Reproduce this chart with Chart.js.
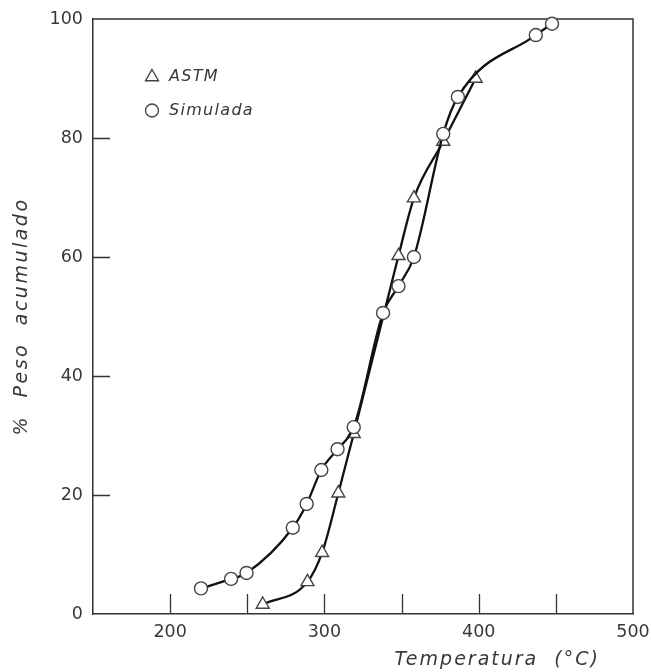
<!DOCTYPE html>
<html><head><meta charset="utf-8">
<script src="https://cdn.jsdelivr.net/npm/chart.js@4/dist/chart.umd.min.js"></script>
<style>html,body{margin:0;padding:0;background:#fff}#wrap{width:651px;height:672px}</style>
</head><body><div id="wrap"><canvas id="c" width="651" height="672"></canvas></div>
<script>
// Data
const astmTemp = [260, 289, 298.5, 309, 319, 348, 358, 377, 398];
const astmPeso = [1.6, 5.4, 10.3, 20.3, 30.3, 60.2, 69.9, 79.4, 90.0];
const simTemp = [220, 239.5, 249.5, 279.5, 288.5, 298, 308.5, 319, 338, 348, 358, 377, 386.5, 437, 447.5];
const simPeso = [4.3, 5.9, 6.9, 14.5, 18.5, 24.2, 27.7, 31.4, 50.6, 55.1, 60.0, 80.7, 86.9, 97.3, 99.2];
const xTickLabels = [200, 300, 400, 500];
const yTickLabels = [0, 20, 40, 60, 80, 100];
const xTickMarks = [200, 250, 300, 350, 400, 450];
const yTickMarks = [20, 40, 60, 80];
const seriesNames = ['ASTM', 'Simulada'];
const xTitle = 'Temperatura (°C)';
const yTitle = '% Peso acumulado';

const INK = '#383838';
const FONT = '"DejaVu Sans", sans-serif';

function pts(xs, ys) { return xs.map((x, i) => ({x: x, y: ys[i]})); }

function marker(ctx, style, x, y) {
  ctx.save();
  ctx.fillStyle = '#fff';
  ctx.strokeStyle = '#444';
  ctx.lineWidth = 1.4;
  ctx.beginPath();
  if (style === 'triangle') {
    const r = 7.5;
    for (let k = 0; k < 3; k++) {
      const a = k * 2 * Math.PI / 3;
      const px = x + Math.sin(a) * r, py = y - Math.cos(a) * r;
      if (k === 0) ctx.moveTo(px, py); else ctx.lineTo(px, py);
    }
    ctx.closePath();
  } else {
    ctx.arc(x, y, 6.5, 0, Math.PI * 2);
  }
  ctx.fill();
  ctx.stroke();
  ctx.restore();
}

const decor = {
  id: 'decor',
  beforeDatasetsDraw(chart) {
    const {ctx, chartArea: a, scales: {x, y}} = chart;
    ctx.save();
    ctx.strokeStyle = '#333';
    ctx.lineWidth = 1.5;
    ctx.beginPath();
    ctx.moveTo(a.left, a.top); ctx.lineTo(a.right, a.top); ctx.lineTo(a.right, a.bottom);
    ctx.stroke();
    ctx.lineWidth = 1.3;
    ctx.beginPath();
    xTickMarks.forEach(v => {
      const px = Math.round(x.getPixelForValue(v)) + 0.5;
      ctx.moveTo(px, a.bottom); ctx.lineTo(px, a.bottom - 20);
    });
    yTickMarks.forEach(v => {
      const py = Math.round(y.getPixelForValue(v)) + 0.5;
      ctx.moveTo(a.left, py); ctx.lineTo(a.left + 17, py);
    });
    ctx.stroke();
    ctx.restore();
  },
  afterDraw(chart) {
    const {ctx, chartArea: a, scales: {x}} = chart;
    ctx.save();
    ctx.fillStyle = INK;
    ctx.font = 'italic 16px ' + FONT;
    ctx.letterSpacing = '1.3px';
    ctx.textBaseline = 'middle';
    ctx.textAlign = 'left';
    const styles = ['triangle', 'circle'];
    const lx = a.left + 59, ly0 = a.top + 58, dy = 33.5;
    seriesNames.forEach((n, i) => {
      marker(ctx, styles[i], lx, ly0 + i * dy);
      ctx.fillStyle = INK;
      ctx.fillText(n, lx + 17, ly0 + i * dy);
    });
    ctx.font = 'italic 19px ' + FONT;
    ctx.letterSpacing = '2px';
    ctx.wordSpacing = '8px';
    ctx.textAlign = 'center';
    ctx.fillText(xTitle, x.getPixelForValue(412), a.bottom + 46);
    ctx.letterSpacing = '2.5px';
    ctx.wordSpacing = '9px';
    ctx.translate(22, (a.top + a.bottom) / 2);
    ctx.rotate(-Math.PI / 2);
    ctx.fillText(yTitle, 0, 0);
    ctx.restore();
  }
};

const ds = (label, data, style, radius, order) => ({
  label, data, order,
  showLine: true,
  borderColor: '#111',
  borderWidth: 2.3,
  cubicInterpolationMode: 'monotone',
  pointStyle: style,
  pointRadius: radius,
  pointHoverRadius: radius,
  pointBackgroundColor: '#fff',
  pointBorderColor: '#444',
  pointBorderWidth: 1.4,
  clip: 12
});

new Chart(document.getElementById('c'), {
  type: 'scatter',
  data: {
    datasets: [
      ds(seriesNames[0], pts(astmTemp, astmPeso), 'triangle', 7.5, 1),
      ds(seriesNames[1], pts(simTemp, simPeso), 'circle', 6.5, 0)
    ]
  },
  options: {
    responsive: false,
    devicePixelRatio: 1,
    animation: false,
    layout: {padding: {top: 19, right: 18, left: 0, bottom: 0}},
    plugins: {legend: {display: false}, tooltip: {enabled: false}},
    scales: {
      x: {
        type: 'linear', min: 150, max: 500,
        afterBuildTicks: s => { s.ticks = xTickLabels.map(v => ({value: v})); },
        afterFit: s => { s.height = 58; s.paddingLeft = 0; s.paddingRight = 0; },
        grid: {display: false, drawTicks: false},
        border: {color: '#333', width: 1.5},
        ticks: {color: INK, font: {family: FONT, size: 17.5}, padding: 8, maxRotation: 0}
      },
      y: {
        type: 'linear', min: 0, max: 100,
        afterBuildTicks: s => { s.ticks = yTickLabels.map(v => ({value: v})); },
        afterFit: s => { s.width = 93; s.paddingTop = 0; s.paddingBottom = 0; },
        grid: {display: false, drawTicks: false},
        border: {color: '#333', width: 1.5},
        ticks: {color: INK, font: {family: FONT, size: 17.5}, padding: 10}
      }
    }
  },
  plugins: [decor]
});
</script>
</body></html>
